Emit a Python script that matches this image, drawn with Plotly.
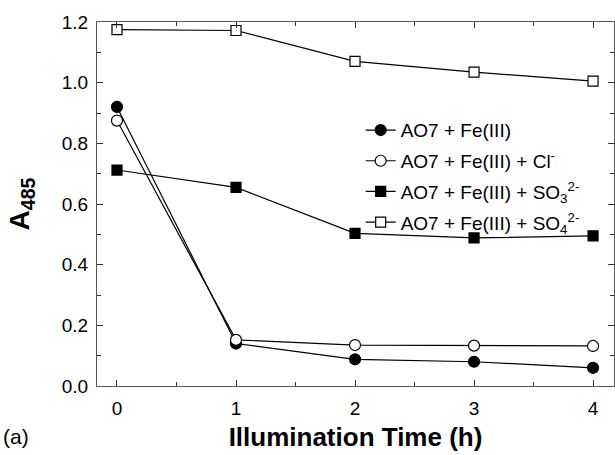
import plotly.graph_objects as go

time_h = [0, 1, 2, 3, 4]
fe3 = [0.92, 0.14, 0.088, 0.080, 0.060]
fe3_cl = [0.875, 0.152, 0.135, 0.133, 0.132]
fe3_so3 = [0.712, 0.655, 0.503, 0.488, 0.495]
fe3_so4 = [1.175, 1.172, 1.070, 1.035, 1.005]

names = [
    "AO7 + Fe(III)",
    "AO7 + Fe(III) + Cl<sup>-</sup>",
    "AO7 + Fe(III) + SO<sub>3</sub><sup>2-</sup>",
    "AO7 + Fe(III) + SO<sub>4</sub><sup>2-</sup>",
]
series = [fe3, fe3_cl, fe3_so3, fe3_so4]
symbols = ["circle", "circle-open", "square", "square-open"]

FONT = "Liberation Sans, Arial, sans-serif"

fig = go.Figure()
for i, (name, ys, sym) in enumerate(zip(names, series, symbols)):
    open_ = sym.endswith("open")
    fig.add_trace(go.Scatter(
        x=time_h, y=ys, name=name, mode="lines+markers", legendgroup=f"g{i}",
        line=dict(color="black", width=1.2),
        marker=dict(symbol=sym.replace("-open", ""), size=11 if "circle" in sym else 10,
                    color="white" if open_ else "black",
                    line=dict(color="black", width=1.2)),
    ))

axis_common = dict(
    showline=True, linecolor="#555", linewidth=1.3, mirror="ticks",
    ticks="inside", ticklen=6, tickcolor="#333", tickwidth=1,
    showgrid=False, zeroline=False,
    tickfont=dict(family=FONT, size=19, color="black"),
)

fig.update_xaxes(
    range=[-0.168, 4.176], tickvals=[0, 1, 2, 3, 4], ticklabelstandoff=5,
    minor=dict(ticks="inside", dtick=0.5, tick0=0, ticklen=4, tickcolor="#333"),
    title=dict(text="<b>Illumination Time (h)</b>", standoff=9,
               font=dict(family=FONT, size=26, color="black")),
    **axis_common,
)
fig.update_yaxes(
    range=[0, 1.2], tickvals=[0, 0.2, 0.4, 0.6, 0.8, 1.0, 1.2], tickformat=".1f",
    ticklabelstandoff=4,
    minor=dict(ticks="inside", dtick=0.1, tick0=0, ticklen=4, tickcolor="#333"),
    title=dict(text="<b>A<sub>485</sub></b>", standoff=23,
               font=dict(family=FONT, size=28, color="black")),
    **axis_common,
)

fig.add_annotation(text="(a)", x=-0.185, y=-0.14, xref="paper", yref="paper",
                   showarrow=False, xanchor="left", yanchor="middle",
                   font=dict(family=FONT, size=21, color="black"))

fig.update_layout(
    width=615, height=455,
    margin=dict(l=97, r=1, t=22, b=69),
    plot_bgcolor="white", paper_bgcolor="white",
    legend=dict(x=0.51, y=0.755, xanchor="left", yanchor="top",
                bgcolor="rgba(0,0,0,0)", borderwidth=0,
                font=dict(family=FONT, size=19, color="black"),
                tracegroupgap=3),
    showlegend=True,
)

fig.write_html("out.html")
